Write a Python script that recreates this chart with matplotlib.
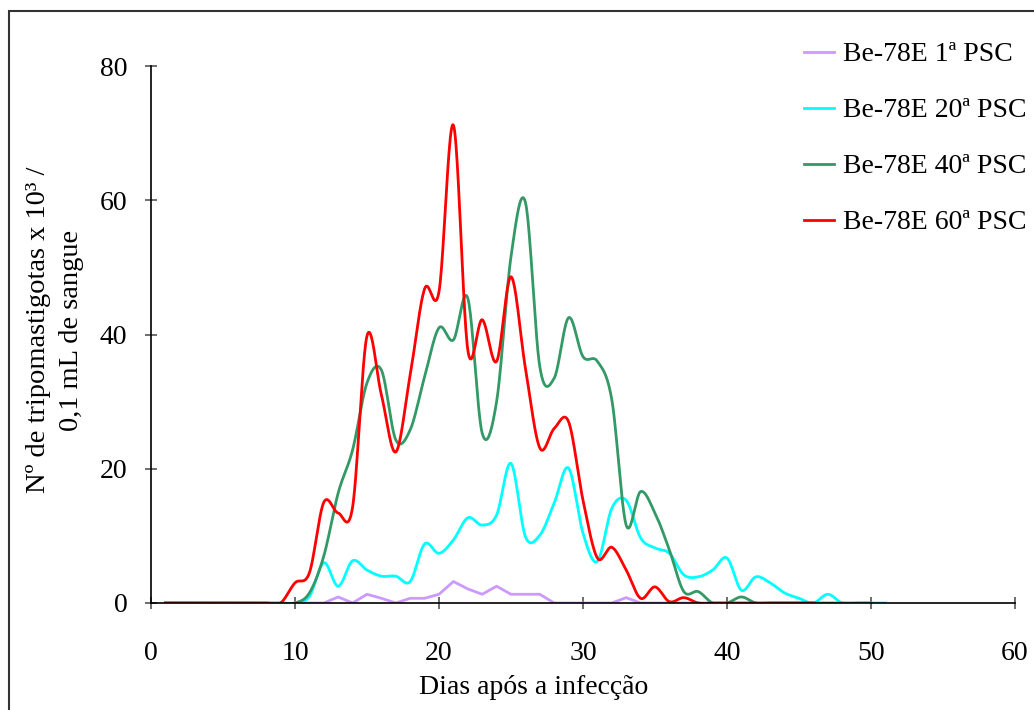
import numpy as np
import matplotlib
matplotlib.use('Agg')
import matplotlib.pyplot as plt
from matplotlib.patches import Rectangle

plt.rcParams['font.family'] = ['Liberation Serif', 'DejaVu Serif']

# dias e parasitemia (x 10^3 / 0,1 mL)
dias_1 = list(range(10, 41))
psc_1 = [0, 0, 0, 0.9, 0, 1.3, 0.7, 0, 0.7, 0.7, 1.3, 3.2, 2.1, 1.3, 2.5, 1.3,
         1.3, 1.3, 0, 0, 0, 0, 0, 0.8, 0, 0, 0, 0, 0, 0, 0]

dias_20 = list(range(1, 52))
psc_20 = [0] * 10 + [1, 6, 2.5, 6.3, 4.9, 4, 4, 3.2, 8.8, 7.4, 9.4, 12.7, 11.6, 13.1,
                     20.8, 9.9, 10.1, 14.9, 20.1, 10.4, 6.2, 14.1, 15.3, 9.7, 8.2, 7.4,
                     4.2, 3.9, 4.9, 6.7, 1.9, 3.9, 3, 1.5, 0.7, 0, 1.3, 0, 0, 0, 0]

dias_40 = list(range(1, 51))
psc_40 = [0] * 10 + [1.5, 7, 16.4, 22.8, 32.8, 34.7, 24.3, 25.8, 33.7, 41, 39.2, 45.4,
                     25.3, 30, 51.6, 59.7, 35.2, 33.5, 42.5, 36.7, 36, 30.3, 11.6, 16.6,
                     13.4, 7.9, 1.7, 1.7, 0, 0, 0.9, 0, 0, 0, 0, 0, 0, 0, 0, 0]

dias_60 = list(range(1, 47))
psc_60 = [0] * 9 + [3, 4.5, 15, 13.4, 14.3, 39.8, 31, 22.5, 34, 46.8, 46.4, 71.2, 37.7,
                    42.2, 36, 48.6, 35, 23.1, 26, 27, 15.3, 6.7, 8.3, 4.9, 0.7, 2.4, 0.2,
                    0.8, 0, 0, 0, 0, 0, 0, 0, 0, 0]


def suaviza(x, y, n=24):
    # linha suavizada tipo Excel (Bezier / Catmull-Rom)
    x = np.asarray(x, float)
    y = np.asarray(y, float)
    px = np.r_[x[0], x, x[-1]]
    py = np.r_[y[0], y, y[-1]]
    t = np.linspace(0, 1, n)[:, None]
    xs, ys = [], []
    for i in range(1, len(px) - 2):
        p0 = np.array([px[i - 1], py[i - 1]])
        p1 = np.array([px[i], py[i]])
        p2 = np.array([px[i + 1], py[i + 1]])
        p3 = np.array([px[i + 2], py[i + 2]])
        c1 = p1 + (p2 - p0) / 6
        c2 = p2 - (p3 - p1) / 6
        b = (1 - t) ** 3 * p1 + 3 * (1 - t) ** 2 * t * c1 + 3 * (1 - t) * t ** 2 * c2 + t ** 3 * p2
        xs.append(b[:, 0])
        ys.append(b[:, 1])
    return np.concatenate(xs), np.concatenate(ys)


fig = plt.figure(figsize=(10.34, 7.10), dpi=100)
ax = fig.add_axes([151 / 1034, 1 - 603 / 710, 864 / 1034, 537 / 710])

ax.plot(dias_1, psc_1, color='#CC99FF', lw=2.0, label='Be-78E 1ª PSC')
ax.plot(*suaviza(dias_20, psc_20), color='#00FFFF', lw=2.0, label='Be-78E 20ª PSC')
ax.plot(*suaviza(dias_40, psc_40), color='#339966', lw=2.0, label='Be-78E 40ª PSC')
ax.plot(*suaviza(dias_60, psc_60), color='#FF0000', lw=2.0, label='Be-78E 60ª PSC')

ax.set_xlim(0, 60)
ax.set_ylim(0, 80)
ax.set_xticks(range(0, 61, 10))
ax.set_yticks(range(0, 81, 20))
ax.spines['top'].set_visible(False)
ax.spines['right'].set_visible(False)
for s in ['left', 'bottom']:
    ax.spines[s].set_linewidth(1.2)
ax.tick_params(direction='inout', length=8, width=1.2, color='#555555',
               labelsize=20, pad=13)
ax.tick_params(axis='x', pad=23)

fig.text(534 / 1034, 1 - 688 / 710, 'Dias após a infecção', fontsize=20,
         ha='center', va='center')
fig.text(55 / 1034, 1 - 330 / 710, 'Nº de tripomastigotas x 10³ /\n0,1 mL de sangue',
         fontsize=20.5, ha='center', va='center', rotation=90, linespacing=1.4)

ax.legend(loc='upper left', bbox_to_anchor=(790 / 1034, 1 - 28 / 710),
          bbox_transform=fig.transFigure, frameon=False, fontsize=20,
          handlelength=1.1, handletextpad=0.3, labelspacing=1.1, borderpad=0)

fig.patches.append(Rectangle((9 / 1034, -0.05), 1.1, 1.05 - 11 / 710,
                             transform=fig.transFigure, fill=False,
                             edgecolor='#333333', lw=1.5))

fig.savefig('out.png', dpi=100)
